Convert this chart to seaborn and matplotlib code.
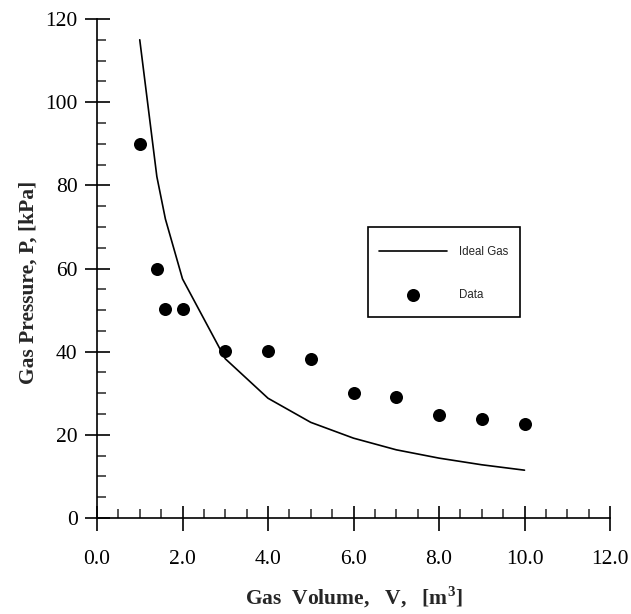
import matplotlib
matplotlib.use('Agg')
import matplotlib.pyplot as plt
import seaborn as sns
from matplotlib.patches import Rectangle
from matplotlib.ticker import MultipleLocator, FormatStrFormatter

# Measured gas volume / pressure
volume = [1.0, 1.4, 1.6, 2.0, 3.0, 4.0, 5.0, 6.0, 7.0, 8.0, 9.0, 10.0]
pressure_data = [90.0, 59.8, 50.2, 50.2, 40.2, 40.1, 38.3, 30.0, 29.0, 24.7, 23.7, 22.7]
# Ideal gas curve read at the same volumes
pressure_ideal = [115.0, 82.1, 71.9, 57.5, 38.3, 28.8, 23.0, 19.2, 16.4, 14.4, 12.8, 11.5]

sns.set_style('white')
plt.rcParams['font.family'] = ['Liberation Serif', 'DejaVu Serif']
plt.rcParams['mathtext.fontset'] = 'custom'
plt.rcParams['mathtext.rm'] = 'Liberation Serif'
plt.rcParams['mathtext.bf'] = 'Liberation Serif:bold'

fig = plt.figure(figsize=(6.31, 6.14), dpi=100)
ax = fig.add_axes([97 / 631, 1 - 518 / 614, (610 - 97) / 631, (518 - 19) / 614])

sns.lineplot(x=volume, y=pressure_ideal, ax=ax, color='black', linewidth=1.2,
             label='Ideal Gas')
sns.scatterplot(x=volume, y=pressure_data, ax=ax, color='black', s=88,
                linewidth=0, label='Data', zorder=3)

ax.set_xlim(0, 12)
ax.set_ylim(0, 120)
ax.xaxis.set_major_locator(MultipleLocator(2))
ax.xaxis.set_minor_locator(MultipleLocator(0.5))
ax.yaxis.set_major_locator(MultipleLocator(20))
ax.yaxis.set_minor_locator(MultipleLocator(5))
ax.xaxis.set_major_formatter(FormatStrFormatter('%.1f'))
ax.yaxis.set_major_formatter(FormatStrFormatter('%d'))

ax.tick_params(which='major', direction='inout', length=18, width=1.2,
               labelsize=15.5, colors='black')
ax.tick_params(axis='x', which='major', pad=14)
ax.tick_params(axis='y', which='major', pad=5)
ax.tick_params(which='minor', direction='in', length=6.5, width=1.1)
ax.tick_params(bottom=True, left=True, which='both')

sns.despine(ax=ax, top=True, right=True)
for side in ['left', 'bottom']:
    ax.spines[side].set_linewidth(1.2)
    ax.spines[side].set_color('black')

ax.set_xlabel(r'Gas  Volume,   V,   [m$^{\mathbf{3}}$]', fontsize=15.5,
              fontweight='bold')
ax.set_ylabel('Gas Pressure, P, [kPa]', fontsize=15.5, fontweight='bold')
ax.xaxis.set_label_coords(0.5, -0.134)
ax.yaxis.set_label_coords(-0.113, 0.473)

# legend box drawn as a plain rectangle, entries placed inside it
ax.add_patch(Rectangle((0.528, 0.4028), 0.2966, 0.1804, transform=ax.transAxes,
                       fill=False, edgecolor='black', linewidth=1.2,
                       clip_on=False, zorder=4))
leg = ax.legend(loc='upper left', bbox_to_anchor=(0.5497, 0.546),
                borderaxespad=0, frameon=False, borderpad=0,
                prop={'family': 'Liberation Sans', 'size': 8.3},
                handlelength=5.9, handletextpad=1.05,
                labelspacing=2.7, scatterpoints=1)

fig.savefig('out.png', dpi=100)
